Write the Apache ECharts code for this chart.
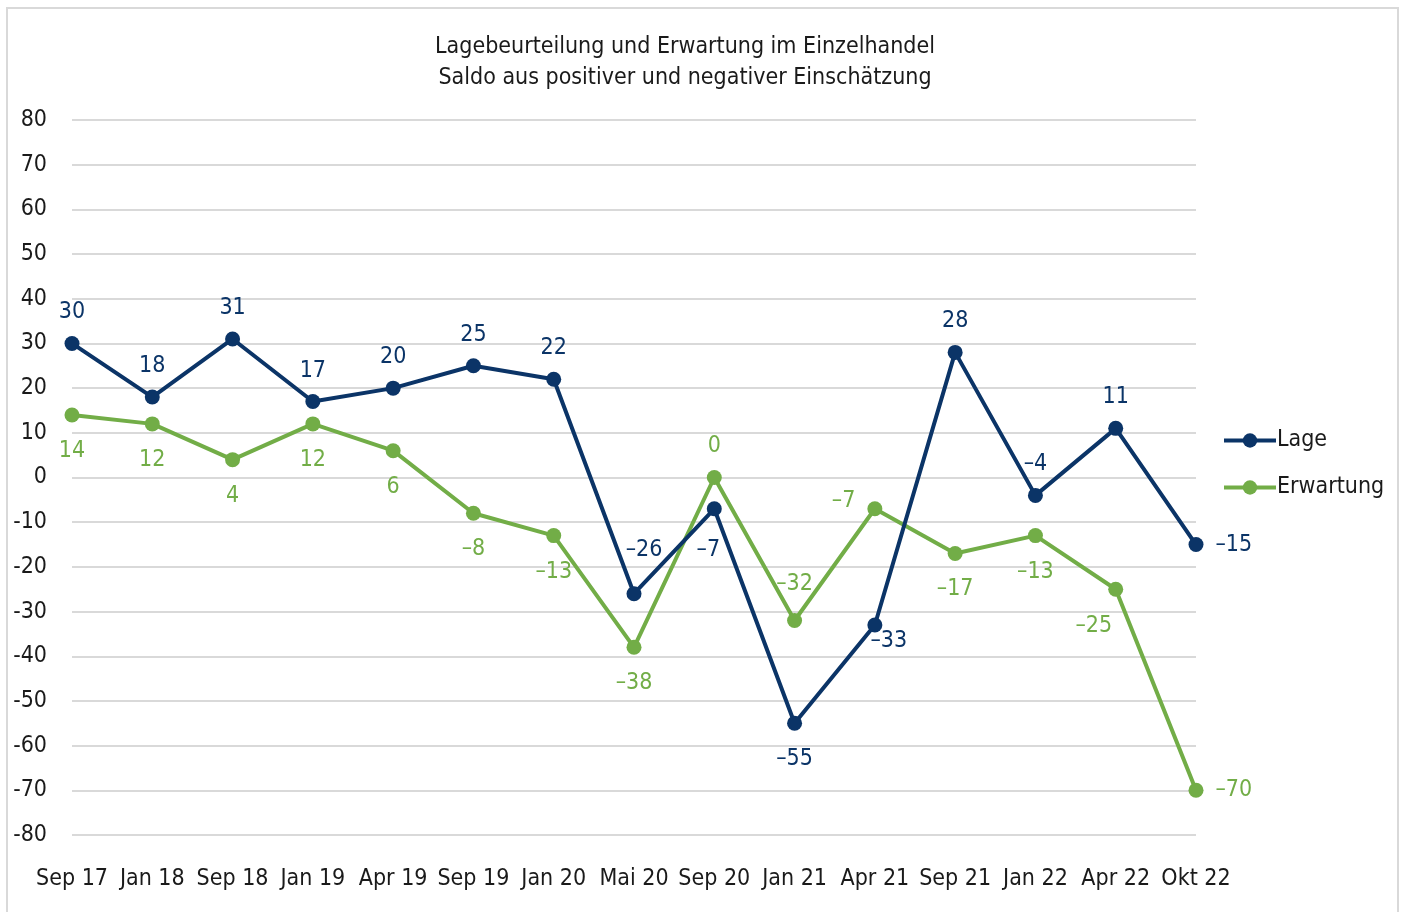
<!DOCTYPE html>
<html>
<head>
<meta charset="utf-8">
<script src="https://cdn.jsdelivr.net/npm/echarts@6/dist/echarts.min.js"></script>
<style>
  html, body { margin: 0; padding: 0; background: #fff; }
  #chart { width: 1407px; height: 912px; }
</style>
</head>
<body>
<div id="chart"></div>
<script>
// data
var months = ['Sep 17', 'Jan 18', 'Sep 18', 'Jan 19', 'Apr 19', 'Sep 19', 'Jan 20', 'Mai 20',
  'Sep 20', 'Jan 21', 'Apr 21', 'Sep 21', 'Jan 22', 'Apr 22', 'Okt 22'];
var lage = [30, 18, 31, 17, 20, 25, 22, -26, -7, -55, -33, 28, -4, 11, -15];
var erwartung = [14, 12, 4, 12, 6, -8, -13, -38, 0, -32, -7, -17, -13, -25, -70];
var yTicks = { min: -80, max: 80, step: 10 };

var FONT = '"Liberation Sans Narrow", "DejaVu Sans Condensed", "Roboto Condensed", sans-serif';
var FS = 23;
var BLUE = '#0b3467';
var GREEN = '#72ad47';

// where each value label sits (Excel had them moved by hand here and there)
var lagePos = ['top', 'top', 'top', 'top', 'top', 'top', 'top', ['top', 10, -13], ['bottom', -6, 5],
  'bottom', ['bottom', 14, -20], 'top', 'top', 'top', 'right'];
var erwPos = ['bottom', 'bottom', 'bottom', 'bottom', 'bottom', 'bottom', 'bottom', 'bottom', 'top',
  ['top', 0, -5], ['left', 0, -8], 'bottom', 'bottom', ['bottom', -22, 1], 'right'];

function dash(v) {
  return v < 0 ? '\u2013' + Math.abs(v) : String(v);
}

function mkData(vals, pos) {
  return vals.map(function(v, i) {
    var p = pos[i];
    var lbl = { position: Array.isArray(p) ? p[0] : p };
    if (Array.isArray(p)) lbl.offset = [p[1], p[2]];
    if (lbl.position == 'bottom') lbl.distance = 17;
    return { value: v, label: lbl };
  });
}

var chart = echarts.init(document.getElementById('chart'));

chart.setOption({
  animation: false,
  textStyle: { fontFamily: FONT },
  title: {
    text: 'Lagebeurteilung und Erwartung im Einzelhandel\nSaldo aus positiver und negativer Einschätzung',
    left: 680,
    top: 27,
    textAlign: 'center',
    textStyle: { fontFamily: FONT, fontSize: FS, fontWeight: 'normal', color: '#1a1a1a', lineHeight: 31 }
  },
  graphic: [{
    type: 'rect',
    shape: { x: 7, y: 8, width: 1391, height: 920 },
    style: { fill: 'none', stroke: '#d9d9d9', lineWidth: 2 },
    silent: true
  }],
  legend: {
    orient: 'vertical',
    left: 1222,
    top: 429,
    padding: 0,
    itemWidth: 52,
    itemHeight: 18,
    itemGap: 24,
    lineStyle: { width: 4 },
    textStyle: { fontFamily: FONT, fontSize: FS, color: '#1a1a1a', padding: [0, 0, 0, -4] },
    data: ['Lage', 'Erwartung']
  },
  grid: { left: 72, right: 211, top: 120, bottom: 77 },
  xAxis: {
    type: 'category',
    boundaryGap: false,
    data: months,
    axisLine: { show: false },
    axisTick: { show: false },
    axisLabel: { fontFamily: FONT, fontSize: FS, color: '#1a1a1a', margin: 33, interval: 0 }
  },
  yAxis: {
    type: 'value',
    min: yTicks.min,
    max: yTicks.max,
    interval: yTicks.step,
    axisLine: { show: false },
    axisTick: { show: false },
    axisLabel: { fontFamily: FONT, fontSize: FS, color: '#1a1a1a', margin: 25 },
    splitLine: { lineStyle: { color: '#d9d9d9', width: 2 } }
  },
  series: [{
    name: 'Lage',
    type: 'line',
    data: mkData(lage, lagePos),
    color: BLUE,
    symbol: 'circle',
    symbolSize: 15,
    lineStyle: { width: 4, color: BLUE },
    itemStyle: { color: BLUE },
    label: {
      show: true, distance: 12, fontFamily: FONT, fontSize: FS, color: BLUE,
      formatter: function(p) { return dash(p.value); }
    },
    z: 3
  }, {
    name: 'Erwartung',
    type: 'line',
    data: mkData(erwartung, erwPos),
    color: GREEN,
    symbol: 'circle',
    symbolSize: 15,
    lineStyle: { width: 4, color: GREEN },
    itemStyle: { color: GREEN },
    label: {
      show: true, distance: 12, fontFamily: FONT, fontSize: FS, color: GREEN,
      formatter: function(p) { return dash(p.value); }
    },
    z: 2
  }]
});
</script>
</body>
</html>
